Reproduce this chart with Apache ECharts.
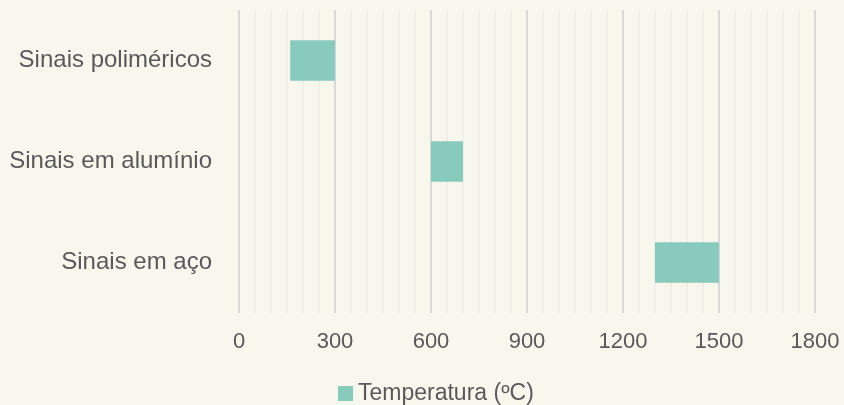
<!DOCTYPE html>
<html><head><meta charset="utf-8">
<script src="https://cdn.jsdelivr.net/npm/echarts@6/dist/echarts.min.js"></script>
<style>html,body{margin:0;padding:0;background:#f8f7ee;}#c{width:844px;height:405px;}</style>
</head><body><div id="c"></div>
<script>
const categories = ['Sinais poliméricos', 'Sinais em alumínio', 'Sinais em aço'];
const tempMin = [160, 600, 1300];
const tempMax = [300, 700, 1500];
const seriesName = 'Temperatura (ºC)';
const FONT = "'Liberation Sans', Arial, sans-serif";

const chart = echarts.init(document.getElementById('c'));
chart.setOption({
  backgroundColor: '#f8f7ee',
  textStyle: { fontFamily: FONT },
  grid: { left: 239, right: 29, top: 10, bottom: 92, containLabel: false },
  legend: {
    data: [seriesName], top: 377, left: 333,
    itemWidth: 15, itemHeight: 15, itemGap: 4,
    icon: 'rect',
    textStyle: { fontSize: 23, color: '#595959', fontFamily: FONT }
  },
  xAxis: {
    type: 'value', min: 0, max: 1800, interval: 300,
    axisLine: { show: false }, axisTick: { show: false },
    axisLabel: { fontSize: 22, color: '#595959', margin: 18, fontFamily: FONT, formatter: v => String(v) },
    splitLine: { show: true, lineStyle: { color: '#d9d9d9', width: 2 } },
    minorTick: { show: false, splitNumber: 6 },
    minorSplitLine: { show: true, lineStyle: { color: '#f0efe8', width: 2 } }
  },
  yAxis: {
    type: 'category', data: categories, inverse: true,
    axisLine: { show: false }, axisTick: { show: false },
    axisLabel: { fontSize: 24, color: '#595959', margin: 27, fontFamily: FONT }
  },
  series: [
    { name: 'base', type: 'bar', stack: 't', barWidth: '40%', silent: true,
      itemStyle: { color: 'transparent' }, data: tempMin },
    { name: seriesName, type: 'bar', stack: 't', barWidth: '40%',
      itemStyle: { color: '#88cabc' },
      data: tempMax.map((v, i) => v - tempMin[i]) }
  ]
});
</script></body></html>
